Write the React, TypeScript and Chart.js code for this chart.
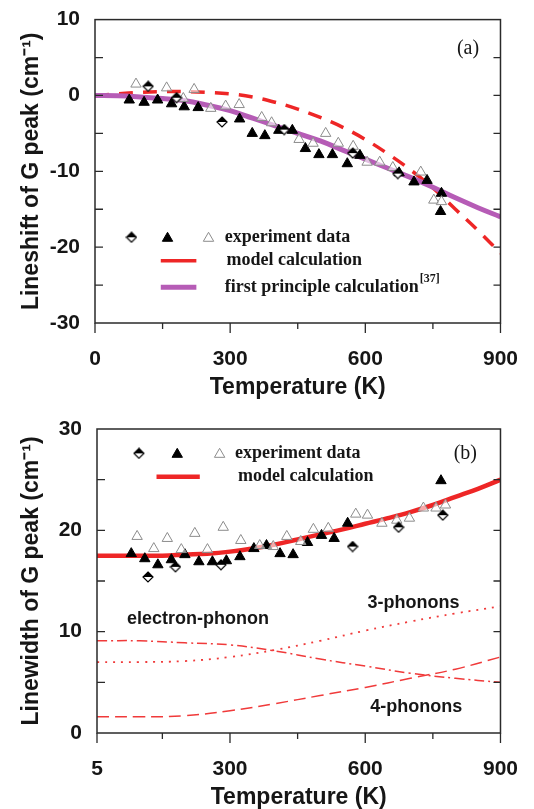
import React, { useEffect, useRef } from 'react';
import { Chart, registerables } from 'chart.js';
Chart.register(...registerables);

// ---------- Panel (a): Lineshift ----------
const aOpenT = [91, 159, 220, 196, 257, 290, 320, 370, 392, 453, 484, 512, 540, 573, 604, 632, 661, 723, 752, 769];
const aOpenV = [1.5, 1.0, 0.8, -0.4, -1.7, -1.4, -1.2, -2.9, -3.6, -5.8, -6.3, -5.0, -6.3, -6.7, -8.8, -8.8, -9.5, -10.1, -13.8, -14.0];
const aFilledT = [76, 109, 139, 170, 198, 229, 321, 349, 377, 408, 438, 467, 497, 527, 560, 588, 675, 708, 737, 769, 767];
const aFilledV = [-0.6, -0.9, -0.6, -1.1, -1.5, -1.6, -3.1, -5.0, -5.3, -4.6, -4.6, -7.0, -7.8, -7.8, -9.0, -7.9, -10.2, -11.4, -11.2, -12.9, -15.3];
const aDiamondT = [118, 181, 282, 420, 572, 672];
const aDiamondV = [1.2, -0.3, -3.5, -4.5, -7.6, -10.3];

const aCurveT = [0, 50, 100, 150, 200, 250, 300, 350, 400, 450, 500, 550, 600, 650, 700, 750, 800, 850, 900];
const aModelV = [0, 0.2, 0.4, 0.5, 0.5, 0.4, 0.2, -0.2, -0.9, -1.8, -2.9, -4.2, -5.8, -7.7, -9.8, -12.2, -15.0, -17.8, -20.8];
const aFirstV = [0, -0.05, -0.2, -0.4, -0.7, -1.3, -2.0, -3.0, -4.0, -5.0, -6.0, -7.2, -8.4, -9.6, -10.8, -12.1, -13.5, -14.8, -16.0];

const aXTicks = [0, 150, 300, 450, 600, 750, 900];
const aXLabels = [0, 300, 600, 900];
const aYTicks = [-30, -25, -20, -15, -10, -5, 0, 5, 10];
const aYLabels = [-30, -20, -10, 0, 10];

// ---------- Panel (b): Linewidth ----------
const bOpenT = [94, 131, 161, 192, 222, 250, 285, 324, 366, 396, 426, 457, 485, 518, 579, 605, 637, 670, 698, 729, 757, 778];
const bOpenV = [19.4, 18.2, 19.2, 18.1, 19.7, 18.1, 20.3, 19.0, 18.5, 18.4, 19.4, 18.9, 20.1, 20.2, 21.6, 21.5, 20.7, 21.0, 21.2, 22.2, 22.2, 22.5];
const bFilledT = [81, 111, 140, 170, 200, 231, 261, 292, 322, 353, 381, 411, 440, 472, 503, 531, 561, 768];
const bFilledV = [17.7, 17.2, 16.6, 17.1, 17.6, 16.9, 16.9, 17.0, 17.4, 18.2, 18.5, 17.7, 17.6, 18.8, 19.5, 19.2, 20.7, 24.9];
const bDiamondT = [118, 179, 280, 572, 674, 772];
const bDiamondV = [15.4, 16.4, 16.6, 18.4, 20.3, 21.5];

const bModelT = [5, 50, 100, 150, 200, 250, 300, 350, 400, 450, 500, 550, 600, 650, 700, 750, 800, 850, 900];
const bModelV = [17.5, 17.5, 17.5, 17.5, 17.6, 17.7, 17.9, 18.2, 18.6, 19.1, 19.6, 20.1, 20.65, 21.2, 21.8, 22.5, 23.3, 24.1, 25.0];
const bCompT = [5, 100, 200, 300, 400, 500, 600, 700, 800, 900];
const bElPhV = [9.1, 9.1, 8.9, 8.7, 8.1, 7.3, 6.6, 5.9, 5.4, 5.0];
const b3PhV = [7.0, 7.0, 7.1, 7.5, 8.2, 9.1, 10.1, 11.0, 11.8, 12.5];
const b4PhV = [1.6, 1.6, 1.7, 2.2, 2.9, 3.7, 4.5, 5.4, 6.3, 7.5];

const bXTicks = [5, 150, 300, 450, 600, 750, 900];
const bXLabels = [5, 300, 600, 900];
const bYTicks = [0, 5, 10, 15, 20, 25, 30];
const bYLabels = [0, 10, 20, 30];

// ---------- styles ----------
const RED = '#ee2626';
const RED_LIGHT = '#f03a3a';
const PURPLE = '#b65cb6';
const TEXT = '#161616';
const SANS = '"Liberation Sans", Arial, Helvetica, sans-serif';
const SERIF = '"Liberation Serif", "Times New Roman", serif';

const pts = (T: number[], V: number[]) => T.map((x, i) => ({ x, y: V[i] }));

function makeDiamond(s: number) {
  const c = document.createElement('canvas');
  c.width = s;
  c.height = s;
  const g = c.getContext('2d')!;
  const m = s / 2, r = s / 2 - 1;
  g.beginPath();
  g.moveTo(m, m - r); g.lineTo(m + r, m); g.lineTo(m, m + r); g.lineTo(m - r, m); g.closePath();
  g.fillStyle = '#fff'; g.fill();
  g.beginPath();
  g.moveTo(m, m - r); g.lineTo(m + r, m); g.lineTo(m - r, m); g.closePath();
  g.fillStyle = '#000'; g.fill();
  g.beginPath();
  g.moveTo(m, m - r); g.lineTo(m + r, m); g.lineTo(m, m + r); g.lineTo(m - r, m); g.closePath();
  g.strokeStyle = '#000'; g.lineWidth = 1.2; g.stroke();
  return c;
}
const DIAMOND = makeDiamond(12);

function drawTri(ctx: CanvasRenderingContext2D, x: number, y: number, r: number, fill: string | null, stroke: string | null) {
  ctx.save();
  ctx.beginPath();
  for (let k = 0; k < 3; k++) {
    const a = (k * 2 * Math.PI) / 3;
    const px = x + Math.sin(a) * r, py = y - Math.cos(a) * r;
    if (k === 0) ctx.moveTo(px, py); else ctx.lineTo(px, py);
  }
  ctx.closePath();
  if (fill) { ctx.fillStyle = fill; ctx.fill(); }
  if (stroke) { ctx.strokeStyle = stroke; ctx.lineWidth = 1; ctx.stroke(); }
  ctx.restore();
}

function markerSets(oT: number[], oV: number[], fT: number[], fV: number[], dT: number[], dV: number[]) {
  return [
    { label: 'open', data: pts(oT, oV), pointStyle: 'triangle', pointRadius: 6, pointBackgroundColor: 'rgba(255,255,255,0.6)', pointBorderColor: '#8c8c8c', pointBorderWidth: 1, showLine: false, order: 1 },
    { label: 'filled', data: pts(fT, fV), pointStyle: 'triangle', pointRadius: 6, pointBackgroundColor: '#000', pointBorderColor: '#000', pointBorderWidth: 1, showLine: false, order: 1 },
    { label: 'diamond', data: pts(dT, dV), pointStyle: DIAMOND, pointRadius: 5, showLine: false, order: 0 },
  ];
}

const lineSet = (label: string, T: number[], V: number[], color: string, width: number, dash: number[]) => ({
  label, data: pts(T, V), showLine: true, borderColor: color, borderWidth: width, borderDash: dash,
  pointRadius: 0, tension: 0.4, fill: false, order: 2,
});

const framePlugin = (xLabels: number[]) => ({
  id: 'frame',
  afterDraw(chart: any) {
    const { ctx, chartArea: { left, right, top, bottom }, scales: { x, y } } = chart;
    ctx.save();
    ctx.strokeStyle = '#2a2a2a';
    ctx.lineWidth = 1.5;
    ctx.strokeRect(left, top, right - left, bottom - top);
    ctx.lineWidth = 1.3;
    ctx.beginPath();
    for (const t of y.ticks) {
      const py = y.getPixelForValue(t.value);
      if (py <= top + 1 || py >= bottom - 1) continue;
      ctx.moveTo(left, py); ctx.lineTo(left + 8, py);
      ctx.moveTo(right, py); ctx.lineTo(right - 7, py);
    }
    for (const t of x.ticks) {
      const px = x.getPixelForValue(t.value);
      const major = xLabels.includes(t.value);
      ctx.moveTo(px, bottom); ctx.lineTo(px, bottom + (major ? 10 : 6));
    }
    ctx.stroke();
    ctx.restore();
  },
});

function scalesFor(opts: {
  xMin: number; xMax: number; xTicks: number[]; xLabels: number[];
  yMin: number; yMax: number; yTicks: number[]; yLabels: number[];
  yTitle: string; yWidth: number; xHeight: number; xTitlePad: number;
}) {
  const tickFont = { family: SANS, size: 21, weight: 'bold' as const };
  const titleFont = { family: SANS, size: 23, weight: 'bold' as const, lineHeight: 1 };
  return {
    x: {
      type: 'linear', min: opts.xMin, max: opts.xMax,
      afterBuildTicks: (s: any) => { s.ticks = opts.xTicks.map((v) => ({ value: v })); },
      afterFit: (s: any) => { s.height = opts.xHeight; },
      ticks: {
        autoSkip: false, maxRotation: 0, padding: 16, color: TEXT, font: tickFont,
        callback: (v: any) => (opts.xLabels.includes(Number(v)) ? String(v) : ''),
      },
      grid: { display: false }, border: { display: false },
      title: { display: true, text: 'Temperature (K)', color: TEXT, font: titleFont, padding: { top: 0, bottom: opts.xTitlePad } },
    },
    y: {
      type: 'linear', min: opts.yMin, max: opts.yMax,
      afterBuildTicks: (s: any) => { s.ticks = opts.yTicks.map((v) => ({ value: v })); },
      afterFit: (s: any) => { s.width = opts.yWidth; },
      ticks: {
        autoSkip: false, padding: 7, color: TEXT, font: tickFont,
        callback: (v: any) => (opts.yLabels.includes(Number(v)) ? String(v) : ''),
      },
      grid: { display: false }, border: { display: false },
      title: { display: true, text: opts.yTitle, color: TEXT, font: titleFont, padding: { top: 20, bottom: 0 } },
    },
  };
}

function configA(): any {
  const annot = {
    id: 'annotA',
    afterDraw(chart: any) {
      const { ctx, scales: { x, y } } = chart;
      const px = (v: number) => x.getPixelForValue(v);
      const py = (v: number) => y.getPixelForValue(v);
      ctx.save();
      ctx.fillStyle = TEXT;
      ctx.font = `20px ${SERIF}`;
      ctx.textAlign = 'center';
      ctx.textBaseline = 'middle';
      ctx.fillText('(a)', px(828), py(6.2));
      const r1 = py(-18.7), r2 = py(-21.8), r3 = py(-25.3);
      ctx.drawImage(DIAMOND, px(81) - 6, r1 - 6);
      drawTri(ctx, px(161), r1 + 1, 6, '#000', '#000');
      drawTri(ctx, px(252), r1 + 1, 6, '#fff', '#8c8c8c');
      ctx.font = `bold 18px ${SERIF}`;
      ctx.textAlign = 'left';
      ctx.fillStyle = TEXT;
      ctx.fillText('experiment data', px(288), r1);
      ctx.strokeStyle = RED; ctx.lineWidth = 3.5;
      ctx.beginPath(); ctx.moveTo(px(146), r2); ctx.lineTo(px(225), r2); ctx.stroke();
      ctx.fillText('model calculation', px(292), r2);
      ctx.strokeStyle = PURPLE; ctx.lineWidth = 5;
      ctx.beginPath(); ctx.moveTo(px(146), r3); ctx.lineTo(px(225), r3); ctx.stroke();
      const t3 = 'first principle calculation';
      ctx.fillText(t3, px(288), r3);
      const w3 = ctx.measureText(t3).width;
      ctx.font = `bold 12px ${SERIF}`;
      ctx.fillText('[37]', px(288) + w3 + 1, r3 - 8);
      ctx.restore();
    },
  };
  return {
    type: 'scatter',
    data: {
      datasets: [
        ...markerSets(aOpenT, aOpenV, aFilledT, aFilledV, aDiamondT, aDiamondV),
        lineSet('first principle', aCurveT, aFirstV, PURPLE, 5, []),
        lineSet('model', aCurveT, aModelV, RED, 3.5, [14, 10]),
      ],
    },
    options: {
      responsive: false, animation: false,
      layout: { padding: { left: 0, right: 26, top: 19, bottom: 0 } },
      plugins: { legend: { display: false }, tooltip: { enabled: false } },
      scales: scalesFor({
        xMin: 0, xMax: 900, xTicks: aXTicks, xLabels: aXLabels,
        yMin: -30, yMax: 10, yTicks: aYTicks, yLabels: aYLabels,
        yTitle: 'Lineshift of G peak (cm⁻¹)', yWidth: 95, xHeight: 81, xTitlePad: 4.5,
      }),
    },
    plugins: [framePlugin(aXLabels), annot],
  };
}

function configB(): any {
  const annot = {
    id: 'annotB',
    afterDraw(chart: any) {
      const { ctx, scales: { x, y } } = chart;
      const px = (v: number) => x.getPixelForValue(v);
      const py = (v: number) => y.getPixelForValue(v);
      ctx.save();
      ctx.fillStyle = TEXT;
      ctx.font = `20px ${SERIF}`;
      ctx.textAlign = 'center';
      ctx.textBaseline = 'middle';
      ctx.fillText('(b)', px(822), py(27.6));
      const r1 = py(27.6), r2 = py(25.3);
      ctx.drawImage(DIAMOND, px(98) - 6, r1 - 6);
      drawTri(ctx, px(183), r1 + 1, 6, '#000', '#000');
      drawTri(ctx, px(277), r1 + 1, 6, '#fff', '#8c8c8c');
      ctx.fillStyle = TEXT;
      ctx.font = `bold 18px ${SERIF}`;
      ctx.textAlign = 'left';
      ctx.fillText('experiment data', px(311), r1);
      ctx.strokeStyle = RED; ctx.lineWidth = 4.5;
      ctx.beginPath(); ctx.moveTo(px(137), r2); ctx.lineTo(px(233), r2); ctx.stroke();
      ctx.fillText('model calculation', px(318), r2);
      ctx.font = `bold 18px ${SANS}`;
      ctx.textAlign = 'center';
      ctx.fillText('electron-phonon', px(229), py(11.2));
      ctx.fillText('3-phonons', px(707), py(12.8));
      ctx.fillText('4-phonons', px(713), py(2.6));
      ctx.restore();
    },
  };
  return {
    type: 'scatter',
    data: {
      datasets: [
        ...markerSets(bOpenT, bOpenV, bFilledT, bFilledV, bDiamondT, bDiamondV),
        lineSet('model', bModelT, bModelV, RED, 4.5, []),
        lineSet('electron-phonon', bCompT, bElPhV, RED_LIGHT, 1.5, [10, 4, 2, 4]),
        lineSet('3-phonons', bCompT, b3PhV, RED_LIGHT, 1.8, [2, 6]),
        lineSet('4-phonons', bCompT, b4PhV, RED_LIGHT, 1.5, [12, 6]),
      ],
    },
    options: {
      responsive: false, animation: false,
      layout: { padding: { left: 0, right: 23, top: 25, bottom: 0 } },
      plugins: { legend: { display: false }, tooltip: { enabled: false } },
      scales: scalesFor({
        xMin: 5, xMax: 900, xTicks: bXTicks, xLabels: bXLabels,
        yMin: 0, yMax: 30, yTicks: bYTicks, yLabels: bYLabels,
        yTitle: 'Linewidth of G peak (cm⁻¹)', yWidth: 97, xHeight: 76, xTitlePad: 0,
      }),
    },
    plugins: [framePlugin(bXLabels), annot],
  };
}

export default function App() {
  const ref1 = useRef<HTMLCanvasElement>(null);
  const ref2 = useRef<HTMLCanvasElement>(null);
  useEffect(() => {
    const c1 = new Chart(ref1.current!, configA());
    const c2 = new Chart(ref2.current!, configB());
    return () => { c1.destroy(); c2.destroy(); };
  }, []);
  return (
    <div style={{ position: 'absolute', left: 0, top: 0, width: 534, height: 809, background: '#fff' }}>
      <canvas ref={ref1} width={534} height={404} style={{ position: 'absolute', left: 0, top: 0 }} />
      <canvas ref={ref2} width={534} height={405} style={{ position: 'absolute', left: 0, top: 404 }} />
    </div>
  );
}
